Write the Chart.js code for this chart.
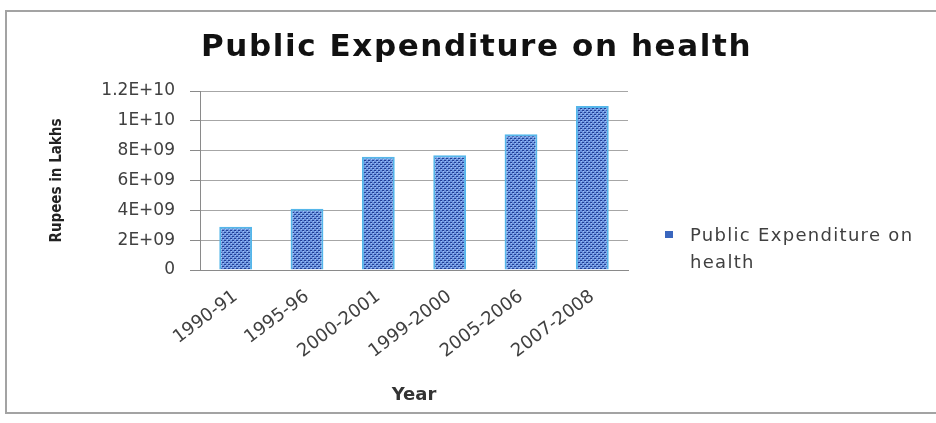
<!DOCTYPE html>
<html>
<head>
<meta charset="utf-8">
<script src="https://cdn.jsdelivr.net/npm/chart.js@4.4.1/dist/chart.umd.min.js"></script>
<style>
  html, body { margin: 0; padding: 0; background: #fff; }
  #wrap { position: relative; width: 936px; height: 423px; overflow: hidden; }
  #frame { position: absolute; left: 5px; top: 10px; width: 960px; height: 404px; border: 2px solid #a3a3a3; box-sizing: border-box; }
  #title { position: absolute; left: 0; width: 953px; top: 27px; text-align: center;
    font: bold 31px "DejaVu Sans", sans-serif; letter-spacing: 1.6px; color: #111; white-space: nowrap; }
  #legend { position: absolute; left: 665px; top: 221px; font: 18px "DejaVu Sans", sans-serif; letter-spacing: 1.3px; color: #404040; line-height: 27px; }
  #legend .sw { position: absolute; left: 0; top: 10px; width: 8px; height: 7px; background: #3a66be; }
  #legend .txt { position: absolute; left: 25px; top: 0; width: 260px; }
  canvas { position: absolute; left: 0; top: 0; }
</style>
</head>
<body>
<div id="wrap">
  <div id="frame"></div>
  <canvas id="chart" width="936" height="423"></canvas>
  <div id="title">Public Expenditure on health</div>
  <div id="legend"><span class="sw"></span><div class="txt" id="legendText"></div></div>
</div>
<script>
const years = ['1990-91', '1995-96', '2000-2001', '1999-2000', '2005-2006', '2007-2008'];
const expenditure = [2.9e9, 4.1e9, 7.6e9, 7.7e9, 9.1e9, 1.1e10];
const yTicks = ['0', '2E+09', '4E+09', '6E+09', '8E+09', '1E+10', '1.2E+10'];
const seriesName = 'Public Expenditure on health';

// dotted fill like the old office pattern
function makePattern() {
  const c = document.createElement('canvas');
  c.width = 4; c.height = 4;
  const g = c.getContext('2d');
  g.fillStyle = '#6a93df';
  g.fillRect(0, 0, 4, 4);
  g.fillStyle = '#223f96';
  g.fillRect(0, 0, 2, 1);
  g.fillRect(2, 2, 2, 1);
  g.fillStyle = '#a3c2f2';
  g.fillRect(1, 1, 1, 1);
  g.fillRect(3, 3, 1, 1);
  return g.createPattern(c, 'repeat');
}

document.getElementById('legendText').innerHTML = 'Public Expenditure on<br>health';

new Chart(document.getElementById('chart'), {
  type: 'bar',
  data: {
    labels: years,
    datasets: [{
      label: seriesName,
      data: expenditure,
      backgroundColor: makePattern(),
      borderColor: '#55b6ea',
      borderWidth: 2,
      borderSkipped: 'bottom',
      barPercentage: 0.46,
      categoryPercentage: 1
    }]
  },
  options: {
    responsive: false,
    animation: false,
    layout: { padding: { left: 44, right: 308, top: 91, bottom: 13 } },
    plugins: { legend: { display: false }, title: { display: false }, tooltip: { enabled: false } },
    scales: {
      x: {
        grid: { display: false, drawTicks: false },
        border: { color: '#8a8a8a', width: 1 },
        ticks: { color: '#404040', font: { family: 'DejaVu Sans', size: 18 }, minRotation: 37, maxRotation: 37, padding: 16, autoSkip: false },
        title: { display: true, text: 'Year', color: '#333', font: { family: 'DejaVu Sans', size: 18, weight: 'bold' }, padding: { top: 0, bottom: 4 } },
        afterFit: s => { s.height = 140; }
      },
      y: {
        min: 0, max: 1.2e10,
        ticks: {
          stepSize: 2e9, color: '#404040', font: { family: 'DejaVu Sans', size: 17 }, padding: 15,
          callback: (v, i) => yTicks[i]
        },
        grid: { color: '#a6a6a6', tickLength: 10, tickColor: '#8a8a8a' },
        border: { color: '#8a8a8a', width: 1 },
        title: { display: true, text: 'Rupees in Lakhs', color: '#222', font: { family: 'DejaVu Sans Condensed', size: 15, weight: 'bold' }, padding: 4 },
        afterFit: s => { s.width = 156; }
      }
    }
  }
});
</script>
</body>
</html>
